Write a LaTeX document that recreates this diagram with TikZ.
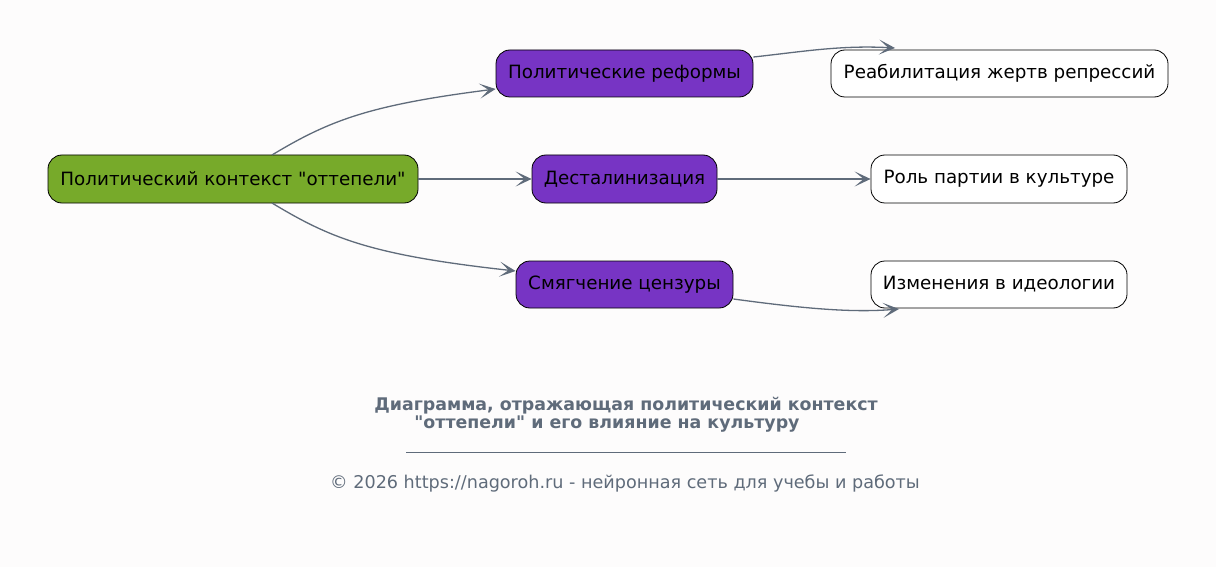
\documentclass[tikz,border=0pt]{standalone}
\usepackage{fontspec}
\setmainfont{DejaVu Sans}[Ligatures=TeXOff]
\usetikzlibrary{arrows.meta}
\definecolor{bg}{HTML}{FDFCFC}
\definecolor{rootc}{HTML}{77AA2A}
\definecolor{purp}{HTML}{7734C4}
\definecolor{edgec}{HTML}{5F6B7A}
\tikzset{
  box/.style={draw=black, line width=0.8pt, rounded corners=14pt, minimum height=48pt, inner sep=0pt, font=\fontsize{18.3}{20}\selectfont, text=black},
  conn/.style={draw=edgec, line width=1.3pt, -{Stealth[length=16pt,width=15pt,inset=9pt]}},
}
\begin{document}
\begin{tikzpicture}[x=1pt,y=-1pt]
\path[fill=bg] (0,0) rectangle (1216,567);
\useasboundingbox (0,0) rectangle (1216,567);
\node[box, fill=rootc, minimum width=370pt] (root) at (233,179) {Политический контекст "оттепели"};
\node[box, fill=purp, minimum width=257pt, minimum height=47pt] (ref) at (624.5,73.5) {Политические реформы};
\node[box, fill=purp, minimum width=185pt] (des) at (624.5,179) {Десталинизация};
\node[box, fill=purp, minimum width=217pt, minimum height=47pt] (cen) at (624.5,284.5) {Смягчение цензуры};
\node[box, fill=white, minimum width=337pt, minimum height=47pt] (reab) at (999.5,73.5) {Реабилитация жертв репрессий};
\node[box, fill=white, minimum width=256pt] (rol) at (999,179) {Роль партии в культуре};
\node[box, fill=white, minimum width=256pt, minimum height=47pt] (izm) at (999,284.5) {Изменения в идеологии};
\coordinate (rootT) at (272,155);
\coordinate (rootB) at (272,203);
\coordinate (reabT) at (895,48);
\coordinate (izmB) at (899,309);
\draw[conn] (rootT) .. controls (330,120) and (370,105) .. (ref.west |- 0,89);
\draw[conn] (root.east) -- (des.west);
\draw[conn] (rootB) .. controls (330,238) and (370,255) .. (cen.west |- 0,271);
\draw[conn] (ref.east |- 0,57) .. controls (800,52) and (840,45) .. (reabT);
\draw[conn] (des.east) -- (rol.west);
\draw[conn] (cen.east |- 0,299) .. controls (800,308) and (850,313) .. (izmB);
\node[font=\bfseries\fontsize{17.4}{18}\selectfont, text=edgec, align=center] (title) at (626,415) {Диаграмма, отражающая политический контекст\\"оттепели" и его влияние на культуру\hspace*{38pt}};
\coordinate (ruleL) at (406,452);
\coordinate (ruleR) at (846,452);
\draw[edgec, line width=0.6pt] (ruleL) -- (ruleR);
\node[font=\fontsize{17.6}{20}\selectfont, text=edgec] (copy) at (625,483) {© 2026 https://nagoroh.ru - нейронная сеть для учебы и работы};
\end{tikzpicture}
\end{document}
